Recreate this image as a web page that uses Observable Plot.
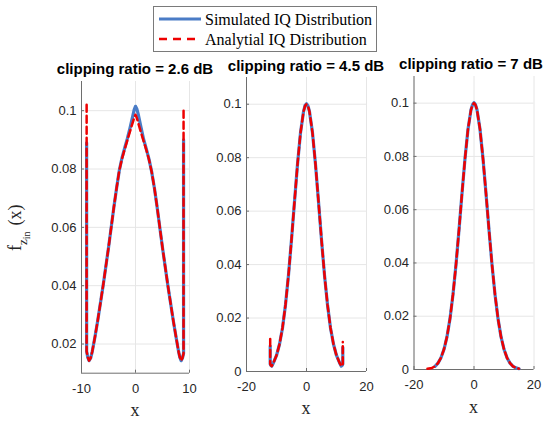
<!DOCTYPE html>
<html><head><meta charset="utf-8">
<script src="https://cdn.jsdelivr.net/npm/d3@7"></script>
<script src="https://cdn.jsdelivr.net/npm/@observablehq/plot@0.6"></script>
<style>
html,body{margin:0;padding:0;background:#fff;}
#wrap{position:relative;width:543px;height:422px;overflow:hidden;background:#fff;}
#wrap svg.pl{position:absolute;left:0;top:0;}
.title{position:absolute;font:bold 15px "Liberation Sans",Arial,sans-serif;white-space:nowrap;transform:translate(-50%,-50%);line-height:1;color:#000;}
.xlab{position:absolute;font:18px "Liberation Serif","Times New Roman",serif;transform:translate(-50%,-50%);line-height:1;color:#262626;}
</style></head><body><div id="wrap"></div>
<script>
// ---- text ----
const titles = ["clipping ratio = 2.6 dB", "clipping ratio = 4.5 dB", "clipping ratio = 7 dB"];
const legendLabels = ["Simulated IQ Distribution", "Analytial IQ Distribution"];

// ---- panel 1 (2.6 dB) ----
const p1X   = [-9.05, -9.05, -8.85, -8.6, -8.3, -8, -7.5, -7, -6.5, -6, -5.5, -5, -4.5, -4, -3.5, -3, -2.5, -2, -1.5, -1, -0.5, -0.25, 0, 0.25, 0.5, 1, 1.5, 2, 2.5, 3, 3.5, 4, 4.5, 5, 5.5, 6, 6.5, 7, 7.5, 8, 8.2, 8.45, 8.7, 8.9, 8.9];
const p1Ana = [0.102, 0.0175, 0.0155, 0.0143, 0.0152, 0.0175, 0.0225, 0.028, 0.034, 0.040, 0.0465, 0.053, 0.060, 0.067, 0.0735, 0.0795, 0.0835, 0.0868, 0.0899, 0.0930, 0.0960, 0.0975, 0.0986, 0.0975, 0.0958, 0.0926, 0.0896, 0.0866, 0.0832, 0.0790, 0.0735, 0.067, 0.060, 0.053, 0.0465, 0.040, 0.034, 0.028, 0.0225, 0.0172, 0.0155, 0.0143, 0.0152, 0.0168, 0.1003];
const p1Sim = [0.089, 0.0175, 0.0155, 0.0143, 0.0152, 0.0175, 0.0225, 0.028, 0.034, 0.040, 0.0465, 0.053, 0.060, 0.067, 0.0735, 0.0795, 0.0838, 0.0872, 0.0905, 0.0942, 0.0982, 0.1003, 0.1015, 0.1006, 0.0988, 0.0945, 0.0902, 0.0869, 0.0834, 0.0790, 0.0735, 0.067, 0.060, 0.053, 0.0465, 0.040, 0.034, 0.028, 0.0225, 0.0172, 0.0155, 0.0143, 0.0152, 0.0168, 0.090];
const p1XTicks = [-10, 0, 10];
const p1YTicks = [0.02, 0.04, 0.06, 0.08, 0.1];

// ---- panel 2 (4.5 dB) ----
const p2X   = [-12.1, -12.1, -11.9, -11.6, -11, -10, -9, -8, -7, -6, -5, -4, -3, -2, -1, -0.5, 0, 0.5, 1, 2, 3, 4, 5, 6, 7, 8, 9, 10, 11, 11.6, 11.9, 12.1, 12.1];
const p2Ana = [0.0122, 0.0028, 0.0023, 0.0020, 0.0033, 0.0060, 0.0102, 0.0163, 0.0250, 0.0361, 0.0493, 0.0636, 0.0775, 0.0893, 0.0972, 0.0993, 0.1000, 0.0993, 0.0972, 0.0893, 0.0775, 0.0636, 0.0493, 0.0361, 0.0250, 0.0163, 0.0102, 0.0060, 0.0033, 0.0020, 0.0023, 0.0028, 0.0110];
const p2Sim = [0.0095, 0.0028, 0.0023, 0.0020, 0.0033, 0.0060, 0.0102, 0.0163, 0.0250, 0.0361, 0.0493, 0.0636, 0.0775, 0.0893, 0.0972, 0.0995, 0.1002, 0.0994, 0.0972, 0.0893, 0.0775, 0.0636, 0.0493, 0.0361, 0.0250, 0.0163, 0.0102, 0.0060, 0.0033, 0.0020, 0.0023, 0.0028, 0.0090];
const p2XTicks = [-20, 0, 20];
const p2YTicks = [0, 0.02, 0.04, 0.06, 0.08, 0.1];

// ---- panel 3 (7 dB) ----
const p3X   = [-15.5, -15, -14, -13, -12, -11, -10, -9, -8, -7, -6, -5, -4, -3, -2, -1, -0.5, 0, 0.5, 1, 2, 3, 4, 5, 6, 7, 8, 9, 10, 11, 12, 13, 14, 15];
const p3Ana = [0.0003, 0.0004, 0.0006, 0.0012, 0.0024, 0.0044, 0.0076, 0.0123, 0.0191, 0.0282, 0.0394, 0.0524, 0.0661, 0.0792, 0.0902, 0.0975, 0.0993, 0.1000, 0.0993, 0.0975, 0.0902, 0.0792, 0.0661, 0.0524, 0.0394, 0.0282, 0.0191, 0.0123, 0.0076, 0.0044, 0.0024, 0.0012, 0.0006, 0.0003];
const p3Sim = [null, null, null, 0.0012, 0.0024, 0.0044, 0.0076, 0.0123, 0.0191, 0.0282, 0.0394, 0.0524, 0.0661, 0.0792, 0.0902, 0.0975, 0.0994, 0.1002, 0.0994, 0.0975, 0.0902, 0.0792, 0.0661, 0.0524, 0.0394, 0.0282, 0.0191, 0.0123, 0.0076, 0.0044, 0.0024, 0.0012, 0.0006, 0.0003];
const p3XTicks = [-20, 0, 20];
const p3YTicks = [0, 0.02, 0.04, 0.06, 0.08, 0.1];

const BLUE = "#4a7cc6", RED = "#ee0000", GRID = "#e6e6e6", AXIS = "#6e6e6e", TXT = "#262626";

function panel(xs, sim, ana, xDomain, yDomain, xTicks, yTicks, box) {
  const data = xs.map((x, i) => ({x, sim: sim[i], ana: ana[i]}));
  const fmt = d => String(d);
  const svg = Plot.plot({
    width: 543, height: 422,
    marginLeft: box.l, marginRight: 543 - box.r, marginTop: box.t, marginBottom: 422 - box.b,
    style: {background: "transparent", fontFamily: "'Liberation Sans', Arial, sans-serif", fontSize: "13px", color: TXT, overflow: "visible"},
    x: {domain: xDomain},
    y: {domain: yDomain},
    marks: [
      Plot.gridX(xTicks, {stroke: GRID, strokeOpacity: 1}),
      Plot.gridY(yTicks, {stroke: GRID, strokeOpacity: 1}),
      Plot.ruleX([xDomain[0]], {stroke: AXIS}),
      Plot.ruleY([yDomain[0]], {stroke: AXIS}),
      Plot.axisX(xTicks, {tickSize: -3, tickPadding: 13.7, stroke: AXIS, fill: TXT, tickFormat: fmt, fontSize: 13, label: null}),
      Plot.axisY(yTicks, {tickSize: -3, tickPadding: 8, stroke: AXIS, fill: TXT, tickFormat: fmt, fontSize: 13, label: null}),
      Plot.line(data, {x: "x", y: "sim", stroke: BLUE, strokeWidth: 3.2, strokeLinejoin: "round"}),
      Plot.line(data, {x: "x", y: "ana", stroke: RED, strokeWidth: 2.5, strokeDasharray: "7,4"})
    ]
  });
  svg.classList.add("pl");
  return svg;
}

const wrap = document.getElementById("wrap");
wrap.appendChild(panel(p1X, p1Sim, p1Ana, [-10, 10], [0.01, 0.11], p1XTicks, p1YTicks, {l: 81, r: 189, t: 81, b: 372.7}));
wrap.appendChild(panel(p2X, p2Sim, p2Ana, [-20, 20], [0, 0.11], p2XTicks, p2YTicks, {l: 246, r: 366, t: 77, b: 371}));
wrap.appendChild(panel(p3X, p3Sim, p3Ana, [-20, 20], [0, 0.11], p3XTicks, p3YTicks, {l: 413.5, r: 533.5, t: 76, b: 369}));

// titles
[[135, 68], [306, 65], [471, 63]].forEach(([cx, cy], i) => {
  const d = document.createElement("div");
  d.className = "title"; d.style.left = cx + "px"; d.style.top = cy + "px";
  d.textContent = titles[i]; wrap.appendChild(d);
});
// x labels
[[135, 410], [306, 408], [473.5, 406.5]].forEach(([cx, cy]) => {
  const d = document.createElement("div");
  d.className = "xlab"; d.style.left = cx + "px"; d.style.top = cy + "px";
  d.textContent = "x"; wrap.appendChild(d);
});

// y label + legend overlay
const ns = "http://www.w3.org/2000/svg";
const ov = document.createElementNS(ns, "svg");
ov.setAttribute("width", 543); ov.setAttribute("height", 422);
ov.style.position = "absolute"; ov.style.left = "0"; ov.style.top = "0";
ov.innerHTML = `
  <text transform="translate(21,251) rotate(-90)" font-family="'Liberation Serif','Times New Roman',serif" font-size="18" fill="${TXT}">f<tspan dy="6" font-size="13">z</tspan><tspan dy="3" font-size="10">in</tspan><tspan dy="-9" font-size="18" dx="6">(x)</tspan></text>
  <rect x="153.5" y="6.5" width="223" height="45" fill="#fff" stroke="#7a7a7a" stroke-width="1"/>
  <line x1="159" x2="201" y1="19" y2="19" stroke="${BLUE}" stroke-width="3"/>
  <line x1="159" x2="201" y1="39" y2="39" stroke="${RED}" stroke-width="2.5" stroke-dasharray="8,6"/>
  <text x="205" y="24.5" font-family="'Liberation Serif','Times New Roman',serif" font-size="16" fill="#000">${legendLabels[0]}</text>
  <text x="205" y="44.5" font-family="'Liberation Serif','Times New Roman',serif" font-size="16" fill="#000">${legendLabels[1]}</text>
`;
wrap.appendChild(ov);
</script></body></html>
